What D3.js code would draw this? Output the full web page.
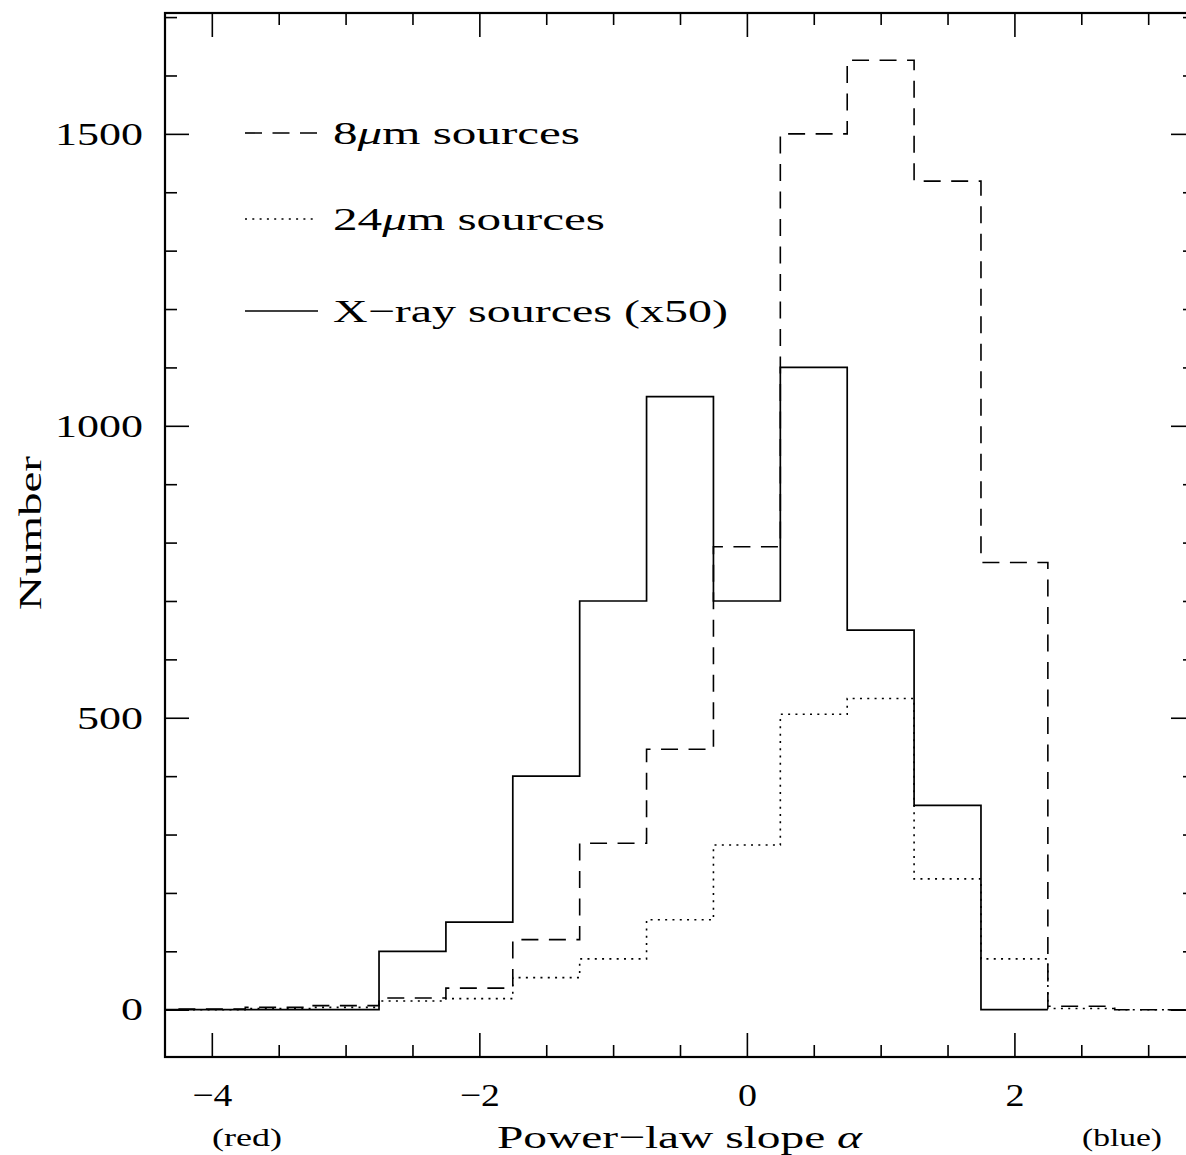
<!DOCTYPE html>
<html>
<head>
<meta charset="utf-8">
<script src="https://cdn.jsdelivr.net/npm/d3@7"></script>
<style>
  body { margin: 0; background: #fff; }
  text { font-family: "Liberation Serif", "DejaVu Serif", serif; fill: #000; }
</style>
</head>
<body>
<svg id="chart"></svg>
<script>
// bin centres of the histograms (width 0.5 in alpha)
const binCenters = [-4.5, -4, -3.5, -3, -2.5, -2, -1.5, -1, -0.5, 0, 0.5, 1, 1.5, 2, 2.5, 3, 3.5]
const binWidth = 0.5
const counts8um = [null, 1, 4, 7, 20, 37, 120, 285, 446, 793, 1500, 1626, 1419, 766, 6, 0, 0]
const counts24um = [null, 0, 2, 4, 15, 19, 55, 87, 154, 282, 506, 533, 224, 87, 2, 0, 0]
const countsXray = [0, 0, 0, 0, 2, 3, 8, 14, 21, 14, 22, 13, 7, 0, null, null, null]
const xrayScale = 50

const xMajor = [-4, -2, 0, 2]
const yMajor = [0, 500, 1000, 1500]

let opts = {
    width: 1186,
    height: 1155,
    left: 165,
    right: 1195,
    top: 13,
    bottom: 1057,
}

let svg = d3.select('#chart')
    .attr('width', opts.width)
    .attr('height', opts.height)

let x = d3.scaleLinear().domain([-4.35, 3.35]).range([opts.left, opts.right])
let y = d3.scaleLinear().domain([-81, 1707]).range([opts.bottom, opts.top])

svg.append('clipPath').attr('id', 'plotclip')
    .append('rect')
    .attr('x', opts.left).attr('y', opts.top)
    .attr('width', opts.right - opts.left).attr('height', opts.bottom - opts.top)

// turn bins into step outline points
function steps(values, factor) {
    let pts = []
    values.forEach((v, i) => {
        if (v === null) return
        let c = binCenters[i]
        pts.push([c - binWidth / 2, v * factor])
        pts.push([c + binWidth / 2, v * factor])
    })
    return pts
}

let line = d3.line().x(d => x(d[0])).y(d => y(d[1]))

let series = [
    { name: '8um', values: counts8um, factor: 1, dash: '17,10.5', width: 1.6 },
    { name: '24um', values: counts24um, factor: 1, dash: '2,5.3', width: 1.6 },
    { name: 'xray', values: countsXray, factor: xrayScale, dash: null, width: 1.7 },
]

let plot = svg.append('g').attr('clip-path', 'url(#plotclip)')
plot.selectAll('path')
    .data(series)
    .enter().append('path')
    .attr('d', d => line(steps(d.values, d.factor)))
    .attr('fill', 'none')
    .attr('stroke', '#000')
    .attr('stroke-width', d => d.width)
    .attr('stroke-dasharray', d => d.dash)

// axes: ticks point inwards on all four sides
let xd = x.domain(), yd = y.domain()
let xMinor = d3.range(-4.5, 3.5, 0.5).filter(v => xMajor.indexOf(v) < 0 && v > xd[0] && v < xd[1])
let yMinor = d3.range(-100, 1800, 100).filter(v => yMajor.indexOf(v) < 0 && v > yd[0] && v < yd[1])
let fmtMinus = d => d < 0 ? '\u2212' + Math.abs(d) : String(d)

function styleAxis(g) {
    g.select('.domain').remove()
    g.selectAll('line').attr('stroke', '#000').attr('stroke-width', 1.6)
    g.selectAll('text').attr('font-size', 32).attr('fill', '#000')
}

svg.append('g').attr('transform', `translate(0,${opts.bottom})`)
    .call(d3.axisBottom(x).tickValues(xMinor).tickSize(-12).tickFormat(''))
    .call(styleAxis)
svg.append('g').attr('transform', `translate(0,${opts.bottom})`)
    .call(d3.axisBottom(x).tickValues(xMajor).tickSize(-24).tickPadding(26).tickFormat(fmtMinus))
    .call(styleAxis)
    .selectAll('text')
    .attr('textLength', d => d < 0 ? 40 : 19)
    .attr('lengthAdjust', 'spacingAndGlyphs')
svg.append('g').attr('transform', `translate(0,${opts.top})`)
    .call(d3.axisTop(x).tickValues(xMinor).tickSize(-12).tickFormat(''))
    .call(styleAxis)
svg.append('g').attr('transform', `translate(0,${opts.top})`)
    .call(d3.axisTop(x).tickValues(xMajor).tickSize(-24).tickFormat(''))
    .call(styleAxis)

svg.append('g').attr('transform', `translate(${opts.left},0)`)
    .call(d3.axisLeft(y).tickValues(yMinor).tickSize(-12).tickFormat(''))
    .call(styleAxis)
svg.append('g').attr('transform', `translate(${opts.left},0)`)
    .call(d3.axisLeft(y).tickValues(yMajor).tickSize(-24).tickPadding(22).tickFormat(d => String(d)))
    .call(styleAxis)
    .selectAll('text')
    .attr('textLength', d => String(d).length * 22)
    .attr('lengthAdjust', 'spacingAndGlyphs')
svg.append('g').attr('transform', `translate(${opts.right},0)`)
    .call(d3.axisRight(y).tickValues(yMinor).tickSize(-12).tickFormat(''))
    .call(styleAxis)
svg.append('g').attr('transform', `translate(${opts.right},0)`)
    .call(d3.axisRight(y).tickValues(yMajor).tickSize(-24).tickFormat(''))
    .call(styleAxis)

svg.append('rect')
    .attr('x', opts.left).attr('y', opts.top)
    .attr('width', opts.right - opts.left).attr('height', opts.bottom - opts.top)
    .attr('fill', 'none').attr('stroke', '#000').attr('stroke-width', 2.2)

// legend
let legend = [
    { pre: '8', post: 'm sources', dash: '17,10.5', y: 133, len: 247 },
    { pre: '24', post: 'm sources', dash: '2,5.3', y: 219, len: 272 },
    { pre: 'X\u2212ray sources (x50)', post: null, dash: null, y: 311, len: 395 },
]
let lg = svg.append('g')
lg.selectAll('line')
    .data(legend)
    .enter().append('line')
    .attr('x1', 245).attr('x2', 318)
    .attr('y1', d => d.y).attr('y2', d => d.y)
    .attr('stroke', '#000').attr('stroke-width', 1.6)
    .attr('stroke-dasharray', d => d.dash)
let lt = lg.selectAll('text')
    .data(legend)
    .enter().append('text')
    .attr('x', 333).attr('y', d => d.y + 11)
    .attr('font-size', 32)
    .attr('textLength', d => d.len)
    .attr('lengthAdjust', 'spacingAndGlyphs')
lt.append('tspan').text(d => d.pre)
lt.filter(d => d.post).append('tspan').attr('font-style', 'italic').text('\u03bc')
lt.filter(d => d.post).append('tspan').text(d => d.post)

// axis titles
let xt = svg.append('text')
    .attr('x', 497).attr('y', 1148)
    .attr('font-size', 32)
    .attr('textLength', 365).attr('lengthAdjust', 'spacingAndGlyphs')
xt.append('tspan').text('Power\u2212law slope ')
xt.append('tspan').attr('font-style', 'italic').text('\u03b1')

svg.append('text')
    .attr('x', 212).attr('y', 1146)
    .attr('font-size', 26)
    .attr('textLength', 70).attr('lengthAdjust', 'spacingAndGlyphs')
    .text('(red)')
svg.append('text')
    .attr('x', 1082).attr('y', 1146)
    .attr('font-size', 26)
    .attr('textLength', 80).attr('lengthAdjust', 'spacingAndGlyphs')
    .text('(blue)')

svg.append('text')
    .attr('transform', 'translate(41,533) rotate(-90)')
    .attr('text-anchor', 'middle')
    .attr('font-size', 32)
    .attr('textLength', 154).attr('lengthAdjust', 'spacingAndGlyphs')
    .text('Number')
</script>
</body>
</html>
